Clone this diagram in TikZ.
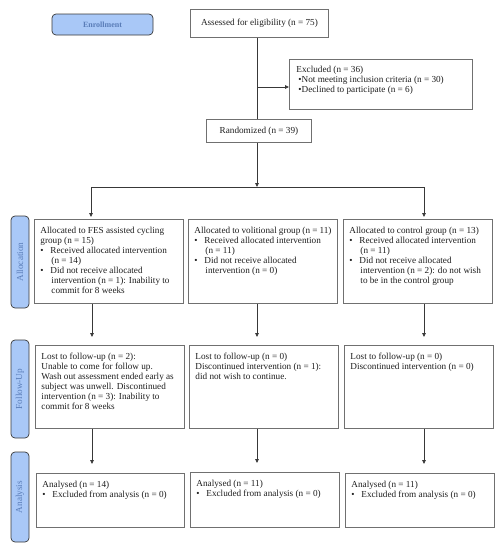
\documentclass[tikz,border=0pt]{standalone}
\usepackage{fontspec}
\setmainfont{Liberation Serif}
\usetikzlibrary{arrows.meta,calc}
\definecolor{lblue}{HTML}{A9C8F7}
\definecolor{ltext}{HTML}{5A7DB8}
\definecolor{bgray}{HTML}{707070}
\definecolor{lgray}{HTML}{383838}
\definecolor{txt}{HTML}{1E1E1E}
\newcommand{\bul}{\makebox[10pt][l]{\textbullet}}
\newcommand{\ind}{\hspace*{11pt}}
\newcommand{\bx}[3]{\parbox[t][#2][t]{#1}{\raggedright\strut #3}}
\begin{document}
\begin{tikzpicture}[x=1pt,y=-1pt, font=\fontsize{9.2}{10}\selectfont, text=txt,
  box/.style={draw=bgray, line width=0.9pt, anchor=north west, inner xsep=6pt, inner ysep=7pt, align=left},
  cbox/.style={draw=bgray, line width=0.9pt, anchor=north west, inner sep=0pt, align=center},
  side/.style={draw=lgray, fill=lblue, rounded corners=4pt, line width=0.7pt, text=ltext, inner sep=0pt},
  conn/.style={draw=lgray, line width=0.8pt},
  arr/.style={conn, -{Triangle[length=4pt,width=3.6pt]}}]
\useasboundingbox (0,0) rectangle (502,550);
% side labels
\node[side, minimum width=101pt, minimum height=21pt] (lenr) at (102.5,24.5) {\fontsize{8}{10}\selectfont\textbf{Enrollment}};
\node[side, rotate=90, minimum width=92pt, minimum height=18pt] (lall) at (20,262) {Allocation};
\node[side, rotate=90, minimum width=98pt, minimum height=18pt] (lfol) at (20,389) {Follow-Up};
\node[side, rotate=90, minimum width=90pt, minimum height=18pt] (lana) at (20,497) {Analysis};
% enrollment
\node[cbox, minimum width=138pt, minimum height=28pt] (assess) at (190,9) {Assessed for eligibility (n = 75)};
\node[box, inner xsep=7pt, inner ysep=6pt] (excl) at (289,59) {\bx{169pt}{38pt}{Excluded (n = 36)\\
\hspace*{2pt}\textbullet Not meeting inclusion criteria (n = 30)\\
\hspace*{2pt}\textbullet Declined to participate (n = 6)}};
\node[cbox, minimum width=105pt, minimum height=23pt] (rand) at (206,119) {Randomized (n = 39)};
% allocation
\node[box] (al1) at (34,219) {\bx{137pt}{70pt}{Allocated to FES assisted cycling\\
group (n = 15)\\
\bul Received allocated intervention\\
\ind(n = 14)\\
\bul Did not receive allocated\\
\ind intervention (n = 1): Inability to\\
\ind commit for 8 weeks}};
\node[box] (al2) at (188,219) {\bx{137pt}{70pt}{Allocated to volitional group (n = 11)\\
\bul Received allocated intervention\\
\ind(n = 11)\\
\bul Did not receive allocated\\
\ind intervention (n = 0)}};
\node[box] (al3) at (343,219) {\bx{137pt}{70pt}{Allocated to control group (n = 13)\\
\bul Received allocated intervention\\
\ind(n = 11)\\
\bul Did not receive allocated\\
\ind intervention (n = 2): do not wish\\
\ind to be in the control group}};
% follow-up
\node[box] (fo1) at (35,345) {\bx{137pt}{69pt}{Lost to follow-up (n = 2):\\
Unable to come for follow up.\\
Wash out assessment ended early as\\
subject was unwell. Discontinued\\
intervention (n = 3): Inability to\\
commit for 8 weeks}};
\node[box] (fo2) at (189,345) {\bx{137pt}{69pt}{Lost to follow-up (n = 0)\\
Discontinued intervention (n = 1):\\
did not wish to continue.}};
\node[box] (fo3) at (344,345) {\bx{137pt}{69pt}{Lost to follow-up (n = 0)\\
Discontinued intervention (n = 0)}};
% analysis
\node[box] (an1) at (36,473) {\bx{136pt}{40pt}{Analysed (n = 14)\\
\bul Excluded from analysis (n = 0)}};
\node[box] (an2) at (190,472) {\bx{137pt}{41pt}{Analysed (n = 11)\\
\bul Excluded from analysis (n = 0)}};
\node[box] (an3) at (345,473) {\bx{137pt}{40pt}{Analysed (n = 11)\\
\bul Excluded from analysis (n = 0)}};
% connectors
\coordinate (ex) at (257,87);
\coordinate (split) at (257,187);
\coordinate (c1) at (91,187);
\coordinate (c3) at (424,187);
\coordinate (k1) at (92,0);
\coordinate (k2) at (257,0);
\coordinate (k3) at (424,0);
\draw[conn] (assess.south -| split) -- (rand.north -| split);
\draw[arr] (ex) -- (ex -| excl.west);
\draw[arr] (rand.south -| split) -- (split);
\draw[conn] (c1) -- (c3);
\draw[arr, shorten >=2pt] (c1) -- (c1 |- al1.north);
\draw[arr, shorten >=2pt] (c3) -- (c3 |- al3.north);
\draw[arr, shorten >=8pt] (al1.south -| k1) -- (fo1.north -| k1);
\draw[arr, shorten >=8pt] (al2.south -| k2) -- (fo2.north -| k2);
\draw[arr, shorten >=8pt] (al3.south -| k3) -- (fo3.north -| k3);
\draw[arr, shorten >=9pt] (fo1.south -| k1) -- (an1.north -| k1);
\draw[arr, shorten >=9pt] (fo2.south -| k2) -- (an2.north -| k2);
\draw[arr, shorten >=9pt] (fo3.south -| k3) -- (an3.north -| k3);
\end{tikzpicture}
\end{document}
